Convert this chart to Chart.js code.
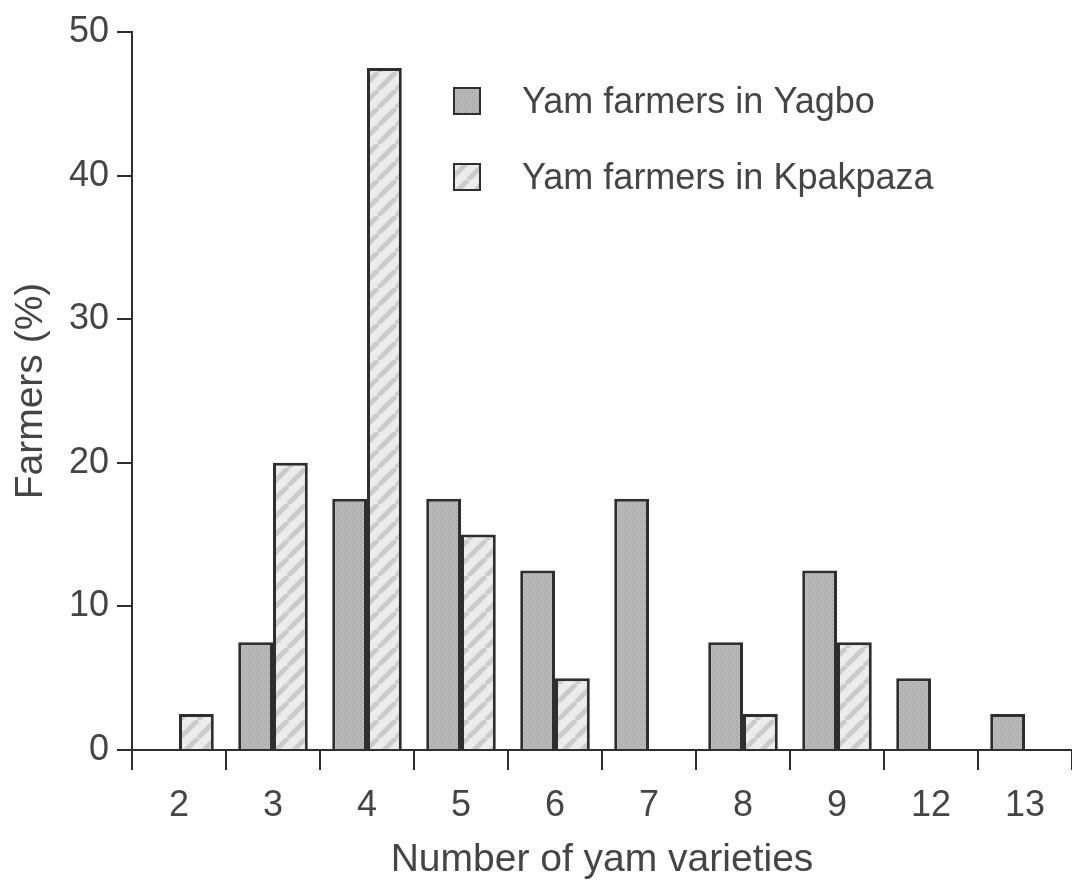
<!DOCTYPE html>
<html>
<head>
<meta charset="utf-8">
<script src="https://cdn.jsdelivr.net/npm/chart.js@4.4.1/dist/chart.umd.min.js"></script>
<style>
  html, body { margin: 0; padding: 0; background: #fff; }
</style>
</head>
<body>
<canvas id="chart" width="1072" height="884"></canvas>
<script>
// data
const varieties = ["2", "3", "4", "5", "6", "7", "8", "9", "12", "13"];
const yagbo = [0, 7.5, 17.5, 17.5, 12.5, 17.5, 7.5, 12.5, 5, 2.5];
const kpakpaza = [2.5, 20, 47.5, 15, 5, 0, 2.5, 7.5, 0, 0];
const yTicks = [0, 10, 20, 30, 40, 50];

const textColor = "#454545";
const lineColor = "#2e2e2e";
const fontFamily = '"Liberation Sans", Arial, sans-serif';

// dotted grey screen, like the scanned print
const makeDots = () => {
  const c = document.createElement("canvas");
  c.width = 4;
  c.height = 4;
  const g = c.getContext("2d");
  g.fillStyle = "#b8b8b8";
  g.fillRect(0, 0, 4, 4);
  g.fillStyle = "#9c9c9c";
  g.fillRect(0, 0, 1, 1);
  g.fillRect(2, 2, 1, 1);
  return g.createPattern(c, "repeat");
};

// light diagonal hatching
const makeHatch = () => {
  const s = 18;
  const c = document.createElement("canvas");
  c.width = s;
  c.height = s;
  const g = c.getContext("2d");
  g.fillStyle = "#ececec";
  g.fillRect(0, 0, s, s);
  g.strokeStyle = "#cbcbcb";
  g.lineWidth = 5;
  [-s, 0, s].forEach((k) => {
    g.beginPath();
    g.moveTo(k, s);
    g.lineTo(k + s, 0);
    g.stroke();
  });
  return g.createPattern(c, "repeat");
};

// legend drawn inside the plot, top middle
const insideLegend = {
  id: "insideLegend",
  afterDraw(chart) {
    const ctx = chart.ctx;
    chart.data.datasets.forEach((ds, i) => {
      const y = 101 + i * 76;
      ctx.save();
      ctx.fillStyle = ds.backgroundColor;
      ctx.fillRect(454, y - 13, 26, 26);
      ctx.strokeStyle = lineColor;
      ctx.lineWidth = 2;
      ctx.strokeRect(454, y - 13, 26, 26);
      ctx.fillStyle = textColor;
      ctx.font = `36px ${fontFamily}`;
      ctx.textBaseline = "middle";
      ctx.fillText(ds.label, 522, y + 2);
      ctx.restore();
    });
  },
};

new Chart(document.getElementById("chart").getContext("2d"), {
  type: "bar",
  data: {
    labels: varieties,
    datasets: [
      {
        label: "Yam farmers in Yagbo",
        data: yagbo,
        backgroundColor: makeDots(),
        borderColor: lineColor,
        borderWidth: 3,
        categoryPercentage: 0.74,
        barPercentage: 1.0,
      },
      {
        label: "Yam farmers in Kpakpaza",
        data: kpakpaza,
        backgroundColor: makeHatch(),
        borderColor: lineColor,
        borderWidth: 3,
        categoryPercentage: 0.74,
        barPercentage: 1.0,
      },
    ],
  },
  options: {
    responsive: false,
    animation: false,
    devicePixelRatio: 1,
    layout: { padding: { top: 32, right: 0, left: 0, bottom: 0 } },
    plugins: {
      legend: { display: false },
      tooltip: { enabled: false },
    },
    scales: {
      x: {
        grid: {
          offset: true,
          drawOnChartArea: false,
          drawTicks: true,
          tickLength: 20,
          color: lineColor,
          lineWidth: 2,
        },
        border: { display: true, color: lineColor, width: 2 },
        ticks: {
          color: textColor,
          font: { family: fontFamily, size: 36 },
          padding: 14,
          maxRotation: 0,
        },
        title: {
          display: true,
          text: "Number of yam varieties",
          color: textColor,
          font: { family: fontFamily, size: 39 },
          padding: { top: 0, bottom: 0 },
        },
        afterFit: (s) => { s.height = 134; },
      },
      y: {
        min: 0,
        max: 50,
        afterBuildTicks: (s) => { s.ticks = yTicks.map((v) => ({ value: v })); },
        grid: {
          drawOnChartArea: false,
          drawTicks: true,
          tickLength: 15,
          color: lineColor,
          lineWidth: 2,
        },
        border: { display: true, color: lineColor, width: 2 },
        ticks: {
          color: textColor,
          font: { family: fontFamily, size: 36 },
          padding: 8,
        },
        title: {
          display: true,
          text: "Farmers (%)",
          color: textColor,
          font: { family: fontFamily, size: 39 },
          padding: { top: 8, bottom: 0 },
        },
        afterFit: (s) => { s.width = 132; },
      },
    },
  },
  plugins: [insideLegend],
});
</script>
</body>
</html>
